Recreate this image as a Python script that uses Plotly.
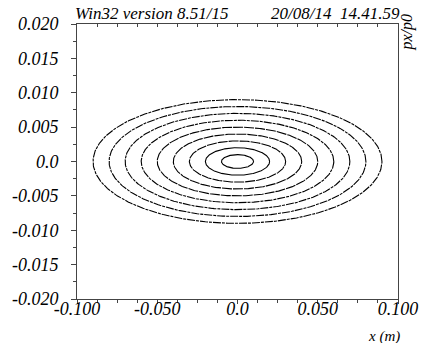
import numpy as np
import plotly.graph_objects as go

# Phase-space ellipses: semi-axes
x_amplitude = [0.010, 0.020, 0.030, 0.040, 0.050, 0.060, 0.070, 0.080, 0.090]   # m
xp_amplitude = [0.001, 0.002, 0.003, 0.004, 0.005, 0.006, 0.007, 0.008, 0.009]  # px/p0

x_tickvals = [-0.100, -0.050, 0.0, 0.050, 0.100]
x_ticktext = ["-0.100", "-0.050", "0.0", "0.050", "0.100"]
y_tickvals = [0.020, 0.015, 0.010, 0.005, 0.0, -0.005, -0.010, -0.015, -0.020]
y_ticktext = ["0.020", "0.015", "0.010", "0.005", "0.0", "-0.005", "-0.010", "-0.015", "-0.020"]

title_left = "Win32 version 8.51/15"
title_right = "20/08/14\u00a0\u00a014.41.59"
x_title = "x (m)"
y_title = "px/p0"

FONT = "Liberation Serif"
AX = "#444444"

theta = np.linspace(0, 2 * np.pi, 400)
fig = go.Figure()
for i, (a, b) in enumerate(zip(x_amplitude, xp_amplitude)):
    dash = "solid" if i < 2 else ("10px,1px" if i < 5 else "8px,1px,3px,1px")
    fig.add_trace(go.Scatter(
        x=a * np.cos(theta), y=b * np.sin(theta), mode="lines",
        line=dict(color="black", width=1.1, dash=dash),
        showlegend=False, hoverinfo="skip"))

# invisible trace for top tick axis
fig.add_trace(go.Scatter(x=[None], y=[None], xaxis="x2", showlegend=False, hoverinfo="skip"))

tickfont = dict(family=FONT, size=18, color="black")

def ital(labels):
    return ["<i>" + t + "</i>" for t in labels]

fig.update_layout(
    width=430, height=343,
    margin=dict(l=68, r=24, t=24, b=44),
    paper_bgcolor="white", plot_bgcolor="white",
    hovermode=False,
    xaxis=dict(range=[-0.1, 0.1], tickvals=x_tickvals, ticktext=ital(x_ticktext),
               ticks="outside", ticklen=4, tickcolor=AX, tickfont=tickfont,
               minor=dict(dtick=0.0125, tick0=0, ticks="outside", ticklen=3, tickcolor=AX),
               showline=True, linecolor=AX, linewidth=1, mirror=True,
               showgrid=False, zeroline=False, ticklabelstandoff=-11),
    xaxis2=dict(range=[-0.1, 0.1], overlaying="x", side="top", dtick=0.0125, tick0=0,
                ticks="inside", ticklen=3, tickcolor=AX, showticklabels=False,
                showline=False, showgrid=False, zeroline=False),
    yaxis=dict(range=[-0.02, 0.02], tickvals=y_tickvals, ticktext=ital(y_ticktext),
               ticks="outside", ticklen=5, tickcolor=AX, tickfont=tickfont,
               minor=dict(dtick=0.0025, tick0=0, ticks="outside", ticklen=3, tickcolor=AX),
               showline=True, linecolor=AX, linewidth=1, mirror=True,
               showgrid=False, zeroline=False, ticklabelstandoff=9),
    annotations=[
        dict(text="<i>" + title_left + "</i>", xref="paper", yref="paper", x=0, y=1,
             xanchor="left", yanchor="bottom", showarrow=False, yshift=-1, xshift=-4,
             font=dict(family=FONT, size=17, color="black")),
        dict(text="<i>" + title_right + "</i>", xref="paper", yref="paper", x=1, y=1,
             xanchor="right", yanchor="bottom", showarrow=False, yshift=-1, xshift=4,
             font=dict(family=FONT, size=17, color="black")),
        dict(text="<i>" + x_title + "</i>", xref="paper", yref="paper", x=1, y=0,
             xanchor="right", yanchor="top", showarrow=False, yshift=-27, xshift=4,
             font=dict(family=FONT, size=15, color="black")),
        dict(text="<i>" + y_title + "</i>", xref="paper", yref="paper", x=1, y=1,
             xanchor="left", yanchor="top", showarrow=False, textangle=-90, xshift=-3, yshift=12,
             font=dict(family=FONT, size=16, color="black")),
    ],
)

fig.write_html("out.html", config={"displayModeBar": False, "staticPlot": True},
               post_script="document.body.style.margin='0px';document.body.style.overflow='hidden';")
